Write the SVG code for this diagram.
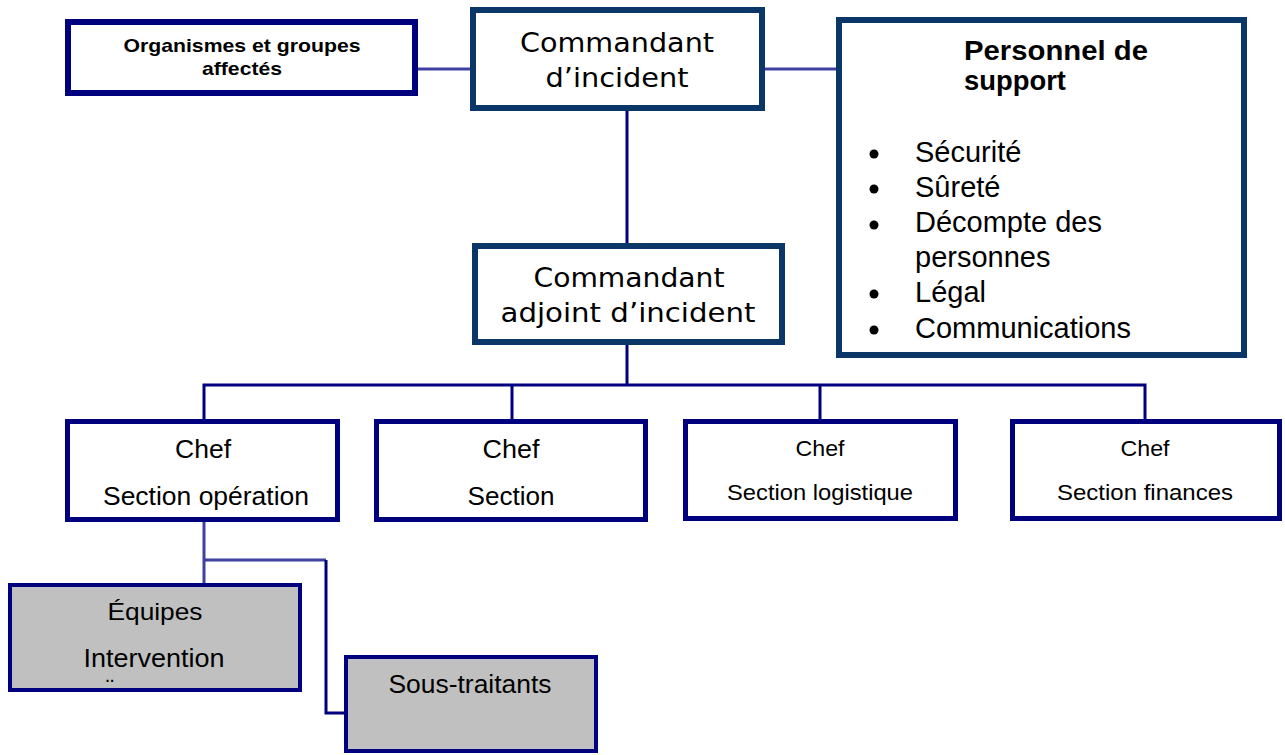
<svg xmlns="http://www.w3.org/2000/svg" width="1285" height="755" viewBox="0 0 1285 755">
  <style>
    .bg { fill: #ffffff; }
    .box-navy { fill: #ffffff; stroke: #00007f; stroke-width: 5; }
    .box-dark { fill: #ffffff; stroke: #0b3768; stroke-width: 6; }
    .box-grey { fill: #c0c0c0; stroke: #00007f; stroke-width: 4; }
    .link { fill: none; stroke: #00007f; stroke-width: 3; }
    .link-soft { fill: none; stroke: #4040a0; stroke-width: 3; }
    .sans { font-family: "Liberation Sans", Arial, sans-serif; fill: #000000; }
    .verd { font-family: "DejaVu Sans", Verdana, sans-serif; fill: #000000; font-size: 27px; }
    .bold { font-weight: bold; }
    .mid { text-anchor: middle; }
  </style>

  <rect class="bg" x="0" y="0" width="1285" height="755"/>

  <!-- connectors -->
  <g id="connectors">
    <line class="link-soft" x1="418" y1="69" x2="470" y2="69"/>
    <line class="link-soft" x1="765" y1="69" x2="836" y2="69"/>
    <line class="link" x1="627" y1="110" x2="627" y2="244"/>
    <line class="link" x1="627" y1="344" x2="627" y2="385"/>
    <polyline class="link" points="204,420 204,385 1145,385 1145,420"/>
    <line class="link" x1="512" y1="385" x2="512" y2="420"/>
    <line class="link" x1="820" y1="385" x2="820" y2="420"/>
    <line class="link-soft" x1="204" y1="521" x2="204" y2="585"/>
    <line class="link-soft" x1="204" y1="560" x2="326" y2="560"/>
    <polyline class="link" points="326,560 326,713 346,713"/>
  </g>

  <!-- top row -->
  <g id="organismes">
    <rect class="box-navy" x="68" y="22" width="347" height="71" style="stroke-width:6"/>
    <text class="sans bold mid" x="242" y="52" font-size="18.5" textLength="237" lengthAdjust="spacingAndGlyphs">Organismes et groupes</text>
    <text class="sans bold mid" x="242" y="75" font-size="18.5" textLength="80" lengthAdjust="spacingAndGlyphs">affectés</text>
  </g>

  <g id="commandant">
    <rect class="box-dark" x="473" y="10" width="289" height="98"/>
    <text class="verd mid" x="617" y="52" textLength="194" lengthAdjust="spacingAndGlyphs">Commandant</text>
    <text class="verd mid" x="617" y="87" textLength="143" lengthAdjust="spacingAndGlyphs">d’incident</text>
  </g>

  <g id="support">
    <rect class="box-dark" x="839" y="20" width="405" height="335"/>
    <text class="sans bold" x="964" y="60" font-size="28" textLength="184" lengthAdjust="spacingAndGlyphs">Personnel de</text>
    <text class="sans bold" x="964" y="90" font-size="28" textLength="102" lengthAdjust="spacingAndGlyphs">support</text>
    <g class="sans" font-size="29">
      <circle cx="874" cy="154" r="4.5"/>
      <text x="915" y="162">Sécurité</text>
      <circle cx="874" cy="189" r="4.5"/>
      <text x="915" y="197">Sûreté</text>
      <circle cx="874" cy="225" r="4.5"/>
      <text x="915" y="232">Décompte des</text>
      <text x="915" y="267">personnes</text>
      <circle cx="874" cy="294" r="4.5"/>
      <text x="915" y="302">Légal</text>
      <circle cx="874" cy="330" r="4.5"/>
      <text x="915" y="338">Communications</text>
    </g>
  </g>

  <g id="adjoint">
    <rect class="box-dark" x="475" y="246" width="307" height="96"/>
    <text class="verd mid" x="629" y="287" textLength="191" lengthAdjust="spacingAndGlyphs">Commandant</text>
    <text class="verd mid" x="628" y="322" textLength="255" lengthAdjust="spacingAndGlyphs">adjoint d’incident</text>
  </g>

  <!-- section chiefs -->
  <g id="chef-operation">
    <rect class="box-navy" x="67.5" y="421.5" width="270" height="98"/>
    <text class="sans mid" x="203" y="458" font-size="25" textLength="56" lengthAdjust="spacingAndGlyphs">Chef</text>
    <text class="sans mid" x="206" y="505" font-size="25" textLength="206" lengthAdjust="spacingAndGlyphs">Section opération</text>
  </g>

  <g id="chef-section">
    <rect class="box-navy" x="376.5" y="421.5" width="269" height="98"/>
    <text class="sans mid" x="511" y="458" font-size="25" textLength="57" lengthAdjust="spacingAndGlyphs">Chef</text>
    <text class="sans mid" x="511" y="505" font-size="25" textLength="87" lengthAdjust="spacingAndGlyphs">Section</text>
  </g>

  <g id="chef-logistique">
    <rect class="box-navy" x="685.5" y="421.5" width="270" height="97"/>
    <text class="sans mid" x="820" y="456" font-size="22" textLength="49" lengthAdjust="spacingAndGlyphs">Chef</text>
    <text class="sans mid" x="820" y="500" font-size="22" textLength="186" lengthAdjust="spacingAndGlyphs">Section logistique</text>
  </g>

  <g id="chef-finances">
    <rect class="box-navy" x="1012.5" y="421.5" width="267" height="97"/>
    <text class="sans mid" x="1145" y="456" font-size="22" textLength="49" lengthAdjust="spacingAndGlyphs">Chef</text>
    <text class="sans mid" x="1145" y="500" font-size="22" textLength="176" lengthAdjust="spacingAndGlyphs">Section finances</text>
  </g>

  <!-- field teams -->
  <g id="equipes">
    <rect class="box-grey" x="10" y="585" width="290" height="105"/>
    <text class="sans mid" x="155" y="620" font-size="24" textLength="95" lengthAdjust="spacingAndGlyphs">Équipes</text>
    <text class="sans mid" x="154" y="667" font-size="25" textLength="141" lengthAdjust="spacingAndGlyphs">Intervention</text>
    <text class="sans" x="106" y="696" font-size="24">¨</text>
  </g>

  <g id="sous-traitants">
    <rect class="box-grey" x="346" y="657" width="250" height="94"/>
    <text class="sans mid" x="470" y="693" font-size="26" textLength="163" lengthAdjust="spacingAndGlyphs">Sous-traitants</text>
  </g>
</svg>
